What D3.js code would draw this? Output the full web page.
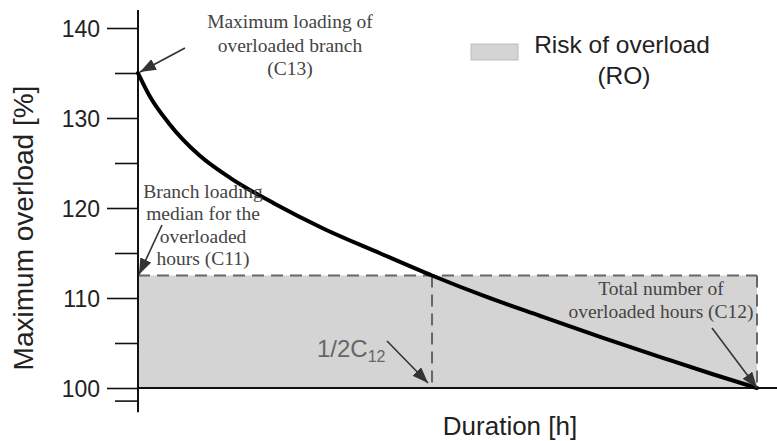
<!DOCTYPE html>
<html>
<head>
<meta charset="utf-8">
<script src="https://cdn.jsdelivr.net/npm/d3@7/dist/d3.min.js"></script>
<style>
  html, body { margin: 0; padding: 0; background: #fff; }
  svg { display: block; }
</style>
</head>
<body>
<svg id="chart" width="777" height="441"></svg>
<script>
// ---- data ----
const durationHours = [0, 2, 5, 10, 15, 22, 30, 39, 47.5, 56, 65, 75, 85, 93, 100];
const maxOverload   = [135, 132.3, 129.4, 125.8, 123.3, 120.5, 117.7, 115.0, 112.5, 110.2, 108.0, 105.6, 103.3, 101.5, 100];
const majorTicks = [100, 110, 120, 130, 140];
const minorTicks = [98.6, 105, 115, 125, 135];
const medianLoading = 112.5;   // C11
const halfHours = 47.5;        // 1/2 C12 (as drawn)
const totalHours = 100;        // C12
const maxLoading = 135;        // C13
const baseLoading = 100;

const svg = d3.select("#chart");
const x = d3.scaleLinear().domain([0, 100]).range([138, 757]);
const y = d3.scaleLinear().domain([100, 140]).range([388, 28]);

const grey = "#666";
const dark = "#333";
const textCol = "#444";
const sans = "Liberation Sans, Arial, sans-serif";
const serif = "Liberation Serif, Times New Roman, serif";

// arrow marker
const defs = svg.append("defs");
defs.append("marker")
  .attr("id", "ah").attr("viewBox", "0 0 16 12")
  .attr("refX", 16).attr("refY", 6)
  .attr("markerWidth", 16).attr("markerHeight", 12)
  .attr("markerUnits", "userSpaceOnUse")
  .attr("orient", "auto")
  .append("path").attr("d", "M0,0 L16,6 L0,12 Z").attr("fill", dark);

// shaded risk area
svg.append("rect")
  .attr("x", x(0)).attr("y", y(medianLoading))
  .attr("width", x(totalHours) - x(0))
  .attr("height", y(baseLoading) - y(medianLoading))
  .attr("fill", "#d4d4d4");

// dashed lines
const dash = "12,7";
svg.append("line")
  .attr("x1", x(0)).attr("x2", x(totalHours))
  .attr("y1", y(medianLoading)).attr("y2", y(medianLoading))
  .attr("stroke", grey).attr("stroke-width", 2.2).attr("stroke-dasharray", dash);
svg.append("line")
  .attr("x1", x(halfHours)).attr("x2", x(halfHours))
  .attr("y1", y(medianLoading)).attr("y2", y(baseLoading))
  .attr("stroke", grey).attr("stroke-width", 2).attr("stroke-dasharray", dash);
svg.append("line")
  .attr("x1", x(totalHours)).attr("x2", x(totalHours))
  .attr("y1", y(medianLoading)).attr("y2", y(baseLoading))
  .attr("stroke", grey).attr("stroke-width", 2).attr("stroke-dasharray", dash);

// axes
const yAxisMajor = d3.axisLeft(y).tickValues(majorTicks).tickSize(31).tickPadding(7).tickFormat(d3.format("d"));
const gY = svg.append("g").attr("transform", `translate(${x(0)},0)`).call(yAxisMajor);
gY.select(".domain").remove();
gY.selectAll("line").attr("stroke", "#111").attr("stroke-width", 1.6);
gY.selectAll("text").attr("font-family", sans)
  .attr("font-size", 23).attr("fill", "#222").attr("dy", "0.36em");

const yAxisMinor = d3.axisLeft(y).tickValues(minorTicks).tickSize(23).tickFormat("");
const gYm = svg.append("g").attr("transform", `translate(${x(0)},0)`).call(yAxisMinor);
gYm.select(".domain").remove();
gYm.selectAll("line").attr("stroke", "#111").attr("stroke-width", 1.6);

// y axis line
svg.append("line")
  .attr("x1", x(0)).attr("x2", x(0))
  .attr("y1", y(142)).attr("y2", y(97.3))
  .attr("stroke", "#111").attr("stroke-width", 2);
// x axis line
svg.append("line")
  .attr("x1", x(0)).attr("x2", x(103.3))
  .attr("y1", y(baseLoading)).attr("y2", y(baseLoading))
  .attr("stroke", "#111").attr("stroke-width", 2);

// curve
const pts = durationHours.map((d, i) => [d, maxOverload[i]]);
const line = d3.line().x(d => x(d[0])).y(d => y(d[1])).curve(d3.curveMonotoneX);
svg.append("path").datum(pts)
  .attr("d", line).attr("fill", "none")
  .attr("stroke", "#000").attr("stroke-width", 4).attr("stroke-linecap", "round");

// axis titles
svg.append("text")
  .attr("transform", `translate(33,228) rotate(-90)`)
  .attr("text-anchor", "middle")
  .attr("font-family", sans)
  .attr("font-size", 28).attr("fill", "#222")
  .text("Maximum overload [%]");
svg.append("text")
  .attr("x", 510).attr("y", 435)
  .attr("text-anchor", "middle")
  .attr("font-family", sans)
  .attr("font-size", 26).attr("fill", "#222")
  .text("Duration [h]");

// legend
svg.append("rect").attr("x", 471).attr("y", 44).attr("width", 47).attr("height", 16)
  .attr("fill", "#d4d4d4").attr("stroke", "#bdbdbd").attr("stroke-width", 1);
const lg = svg.append("text")
  .attr("font-family", sans)
  .attr("font-size", 24.5).attr("fill", "#222").attr("text-anchor", "middle");
lg.append("tspan").attr("x", 622).attr("y", 53).text("Risk of overload");
lg.append("tspan").attr("x", 624).attr("y", 84).text("(RO)");

// serif annotations
function serifBlock(cx, y0, lines, dy) {
  const t = svg.append("text")
    .attr("font-family", serif)
    .attr("font-size", 19.5).attr("fill", textCol).attr("text-anchor", "middle");
  lines.forEach((s, i) => t.append("tspan").attr("x", cx).attr("y", y0 + i * dy).text(s));
}
serifBlock(290, 28, ["Maximum loading of", "overloaded branch", "(C13)"], 23.5);
serifBlock(203, 197.5, ["Branch loading", "median for the", "overloaded", "hours (C11)"], 22.5);
serifBlock(661, 295, ["Total number of", "overloaded hours (C12)"], 23);

// 1/2C12 label
const hl = svg.append("text")
  .attr("x", 317).attr("y", 357)
  .attr("font-family", sans)
  .attr("font-size", 24).attr("fill", grey);
hl.append("tspan").text("1/2C");
hl.append("tspan").attr("font-size", 16).attr("dy", 5).text("12");

// arrows
function arrow(x1, y1, x2, y2) {
  svg.append("line")
    .attr("x1", x1).attr("y1", y1).attr("x2", x2).attr("y2", y2)
    .attr("stroke", dark).attr("stroke-width", 1.6)
    .attr("marker-end", "url(#ah)");
}
arrow(185, 48, x(0) + 2, y(maxLoading) - 1);
arrow(162, 225, x(0) + 1, y(medianLoading) - 1);
arrow(387, 341, x(halfHours) - 4, y(baseLoading) - 5);
arrow(712, 328, x(totalHours), y(baseLoading));
</script>
</body>
</html>
